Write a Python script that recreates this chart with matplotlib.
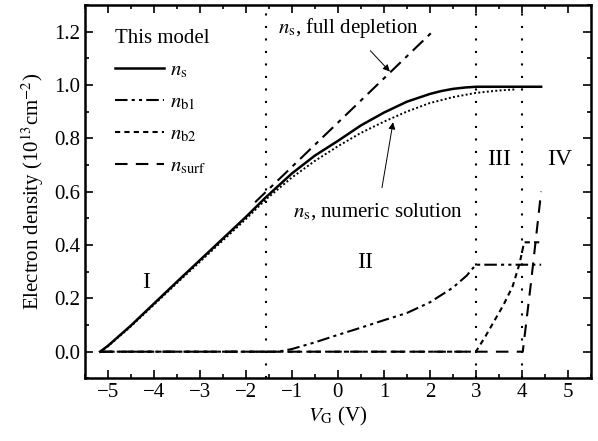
import numpy as np
import matplotlib
matplotlib.use("Agg")
import matplotlib.pyplot as plt
from matplotlib.ticker import MultipleLocator

plt.rcParams['font.family'] = ['Liberation Serif', 'DejaVu Serif']
plt.rcParams['mathtext.fontset'] = 'stix'

# --- data ---
ns_x = [-5.17, -5.0, -4.5, -4.0, -3.5, -3.0, -2.5, -2.0, -1.57, -1.0, -0.5,
        0.0, 0.5, 1.0, 1.5, 2.0, 2.25, 2.5, 2.75, 3.0, 3.5, 4.0, 4.42]
ns_y = [0.0, 0.022, 0.098, 0.18, 0.262, 0.343, 0.424, 0.505, 0.578, 0.668, 0.735,
        0.79, 0.848, 0.896, 0.937, 0.966, 0.977, 0.985, 0.99, 0.993, 0.993, 0.993, 0.993]

num_x = [-5.17, -5.0, -4.5, -4.0, -3.5, -3.0, -2.5, -2.0, -1.57, -1.0, -0.5,
         0.0, 0.5, 1.0, 1.5, 2.0, 2.5, 3.0, 3.5, 3.85]
num_y = [0.0, 0.02, 0.095, 0.176, 0.257, 0.337, 0.417, 0.497, 0.57, 0.653, 0.715,
         0.77, 0.82, 0.862, 0.9, 0.932, 0.954, 0.97, 0.979, 0.983]

full_x = [-1.8, 2.03]
full_y = [0.56, 1.195]

nb1_x = [-5.17, -1.3, -1.0, -0.5, 0.0, 0.5, 1.0, 1.5, 2.0, 2.5, 2.8, 3.0, 4.42]
nb1_y = [0.0, 0.0, 0.01, 0.035, 0.063, 0.09, 0.118, 0.145, 0.185, 0.24, 0.285, 0.326, 0.326]

nb2_x = [-5.17, 3.0, 3.2, 3.4, 3.6, 3.8, 3.95, 4.05, 4.42]
nb2_y = [0.0, 0.0, 0.055, 0.115, 0.175, 0.245, 0.33, 0.41, 0.41]

nsurf_x = [-5.17, 4.02, 4.2, 4.42]
nsurf_y = [0.0, 0.0, 0.26, 0.6]

region_bounds = [-1.57, 3.0, 4.0]
region_labels = ["I", "II", "III", "IV"]
region_pos = [(-4.17, 0.26), (0.59, 0.333), (3.5, 0.72), (4.82, 0.72)]

fig = plt.figure(figsize=(5.98, 4.41), dpi=100)
ax = fig.add_axes([0.142, 0.142, 0.846, 0.847])

ax.plot(ns_x, ns_y, color='black', lw=1.8, ls='-', label=r'$n_{\rm s}$')
ax.plot(nb1_x, nb1_y, color='black', lw=1.5, ls=(0, (6, 2, 1.5, 2, 1.5, 2)), label=r'$n_{\rm b1}$')
ax.plot(nb2_x, nb2_y, color='black', lw=1.5, ls=(0, (2.5, 2)), label=r'$n_{\rm b2}$')
ax.plot(nsurf_x, nsurf_y, color='black', lw=1.5, ls=(0, (6, 4)), label=r'$n_{\rm surf}$')
ax.plot(num_x, num_y, color='black', lw=1.4, ls=(0, (1, 1.2)))
ax.plot(full_x, full_y, color='black', lw=1.5, ls=(0, (7, 3, 2, 3)))

for xb in region_bounds:
    ax.axvline(xb, color='black', lw=1.5, ls=(0, (1, 5)))

for lab, (x, y) in zip(region_labels, region_pos):
    ax.text(x, y, lab, fontsize=17, ha='center', va='center')

ax.annotate(r'$n_{\rm s}$, full depletion', xy=(1.13, 1.05), xytext=(0.24, 1.214),
            fontsize=15, ha='center', va='center',
            arrowprops=dict(arrowstyle='-|>', color='black', lw=0.7, shrinkA=8, shrinkB=0,
                            mutation_scale=10))
ax.annotate(r'$n_{\rm s}$, numeric solution', xy=(1.2, 0.86), xytext=(0.87, 0.524),
            fontsize=15, ha='center', va='center',
            arrowprops=dict(arrowstyle='-|>', color='black', lw=0.7, shrinkA=8, shrinkB=0,
                            mutation_scale=10))

leg = ax.legend(title='This model', loc='upper left', bbox_to_anchor=(0.022, 0.985),
                frameon=False, fontsize=15, title_fontsize=15, handlelength=2.35,
                handletextpad=0.3, labelspacing=0.6, alignment='left')

ax.set_xlim(-5.5, 5.5)
ax.set_ylim(-0.1, 1.3)
ax.xaxis.set_major_locator(MultipleLocator(1))
ax.xaxis.set_minor_locator(MultipleLocator(0.5))
ax.yaxis.set_major_locator(MultipleLocator(0.2))
ax.yaxis.set_minor_locator(MultipleLocator(0.1))
ax.yaxis.set_major_formatter(plt.FormatStrFormatter('%.1f'))
ax.tick_params(which='both', direction='in', top=True, right=True, labelsize=15, width=1.2)
ax.tick_params(which='major', length=6)
ax.tick_params(which='minor', length=3)
for s in ax.spines.values():
    s.set_linewidth(1.8)

ax.set_xlabel(r'$V_{\rm G}$ (V)', fontsize=15, labelpad=2)
ax.set_ylabel(r'Electron density (10$^{13}$cm$^{-2}$)', fontsize=15, labelpad=6)

fig.savefig('out.png', dpi=100)
